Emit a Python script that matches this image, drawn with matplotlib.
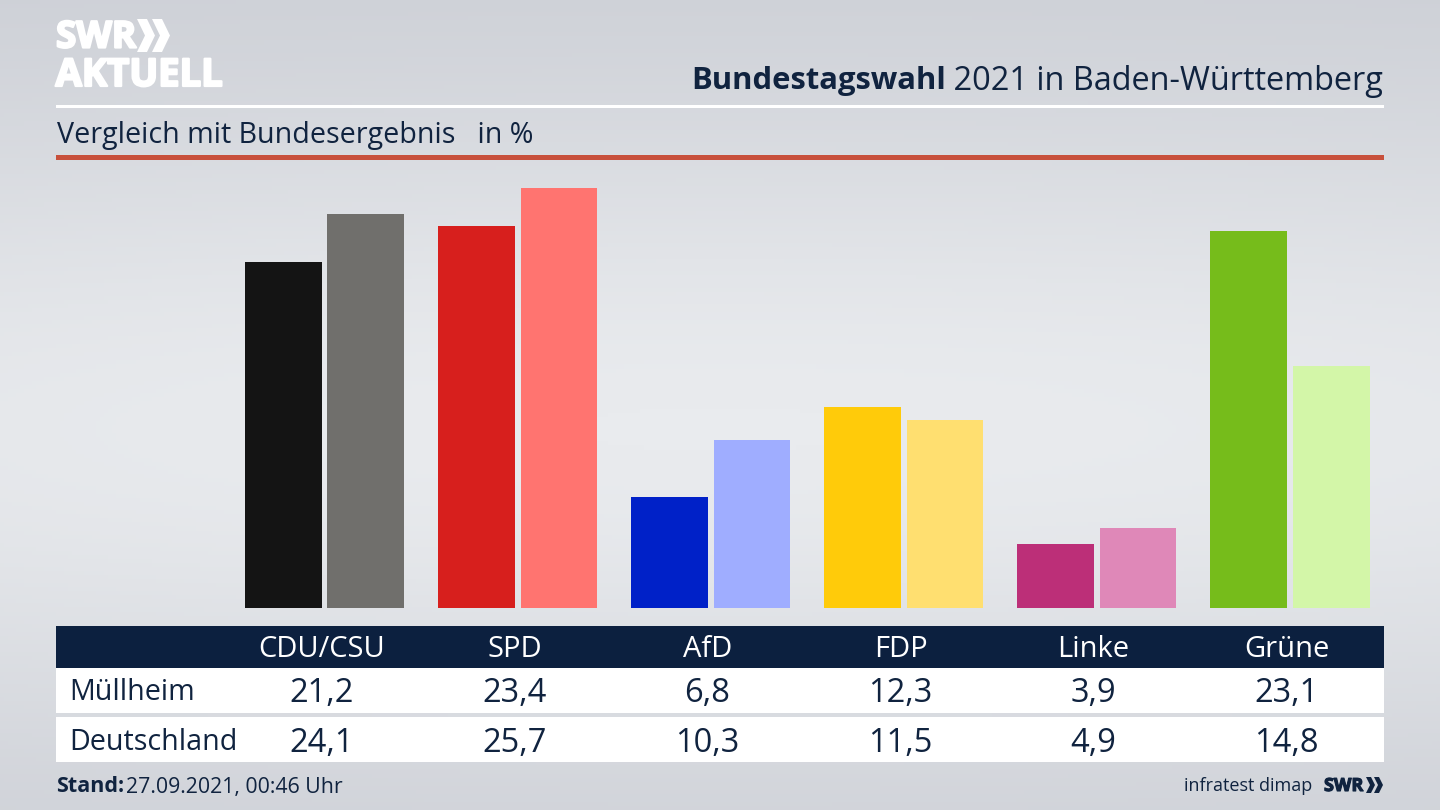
import matplotlib
matplotlib.use("Agg")
import matplotlib.pyplot as plt
import matplotlib.patheffects as pe
from matplotlib.patches import Rectangle, Polygon
import numpy as np

parties = ["CDU/CSU", "SPD", "AfD", "FDP", "Linke", "Grüne"]
muellheim = [21.2, 23.4, 6.8, 12.3, 3.9, 23.1]
deutschland = [24.1, 25.7, 10.3, 11.5, 4.9, 14.8]
colors_local = ["#141414", "#d71f1d", "#0021c8", "#ffcb0a", "#bc2f78", "#76bc1b"]
colors_bund = ["#706f6c", "#ff7470", "#9fadff", "#ffdf70", "#df88b8", "#d3f6a8"]
row_names = ["Müllheim", "Deutschland"]

W, H = 1440, 810
NAVY = "#0c203f"
TEXT = "#10233f"
plt.rcParams["font.family"] = ["Open Sans", "DejaVu Sans"]

fig = plt.figure(figsize=(W / 100, H / 100), dpi=100)

# overlay in pixel coords, y pointing down
bg = fig.add_axes([0, 0, 1, 1])
bg.set_xlim(0, W)
bg.set_ylim(H, 0)
bg.axis("off")

yy, xx = np.mgrid[0:1:200j, 0:1:360j]
grad = np.exp(-((yy - 0.53) / 0.42) ** 2) * (1 - 0.35 * (xx - 0.5) ** 2)
bg.imshow(grad, extent=(0, W, H, 0), aspect="auto", cmap=matplotlib.colors.LinearSegmentedColormap.from_list(
    "bg", ["#c9ccd3", "#e9ebee"]), vmin=0, vmax=1, zorder=0)


def chevron(x0, y0, y1, arm, depth, color):
    ym = (y0 + y1) / 2
    bg.add_patch(Polygon([[x0, y0], [x0 + arm, y0], [x0 + arm + depth, ym], [x0 + arm, y1], [x0, y1], [x0 + depth, ym]],
                         color=color, lw=0))


# header
heavy_w = [pe.withStroke(linewidth=1.6, foreground="white")]
bg.text(56, 37.5, "SWR", color="white", fontsize=26.5, fontweight="bold", va="center", ha="left", path_effects=heavy_w)
chevron(137, 19, 52, 10, 8, "white")
chevron(152, 19, 52, 10, 8, "white")
bg.text(55.5, 76, "AKTUELL", color="white", fontsize=27.5, fontweight="bold", va="center", ha="left", path_effects=heavy_w)

title = bg.text(1383, 81, " 2021 in Baden-Württemberg", color=TEXT, fontsize=23.4, ha="right", va="center")
fig.canvas.draw()
bb = title.get_window_extent()
bg.text(bb.x0 + 1, 81, "Bundestagswahl", color=TEXT, fontsize=22.3, fontweight="bold", ha="right", va="center")

bg.add_patch(Rectangle((56, 104.5), 1328, 3, color="white", lw=0))
bg.text(57, 135, "Vergleich mit Bundesergebnis   in %", color=TEXT, fontsize=20.6, va="center", ha="left")
bg.add_patch(Rectangle((56, 155), 1328, 5, color="#c8503c", lw=0))

# bars
x_first, x_step, px_per_unit = 324.5, 193.1, 16.33
ax = fig.add_axes([56 / W, (H - 608) / H, 1328 / W, 438 / H])
ax.set_xlim((56 - x_first) / x_step, (1384 - x_first) / x_step)
ax.set_ylim(0, 438 / px_per_unit)
ax.axis("off")
pos = np.arange(len(parties))
ax.bar(pos - 41.2 / x_step, muellheim, 76.6 / x_step, color=colors_local)
ax.bar(pos + 41.2 / x_step, deutschland, 76.6 / x_step, color=colors_bund)

# table
bg.add_patch(Rectangle((56, 626), 1328, 42, color=NAVY, lw=0))
bg.add_patch(Rectangle((56, 668), 1328, 45, color="white", lw=0))
bg.add_patch(Rectangle((56, 717), 1328, 45, color="white", lw=0))
for i, name in enumerate(parties):
    cx = 321.5 + 193 * i
    bg.text(cx, 649.5, name, color="white", fontsize=21, ha="center", va="center")
    bg.text(cx, 694, f"{muellheim[i]:.1f}".replace(".", ","), color=TEXT, fontsize=23.5, ha="center", va="center")
    bg.text(cx, 743, f"{deutschland[i]:.1f}".replace(".", ","), color=TEXT, fontsize=23.5, ha="center", va="center")
bg.text(69.5, 693, row_names[0], color=TEXT, fontsize=20.7, va="center", ha="left")
bg.text(69.5, 742, row_names[1], color=TEXT, fontsize=20.7, va="center", ha="left")

# footer
bg.text(56, 787, "Stand:", color=TEXT, fontsize=15.5, fontweight="bold", va="center", ha="left")
bg.text(126, 787, "27.09.2021, 00:46 Uhr", color=TEXT, fontsize=15.3, va="center", ha="left")
bg.text(1312, 786, "infratest dimap", color=TEXT, fontsize=13, va="center", ha="right")
bg.text(1324, 786, "SWR", color=TEXT, fontsize=13, fontweight="bold", va="center", ha="left",
        path_effects=[pe.withStroke(linewidth=0.8, foreground=TEXT)])
chevron(1366, 777, 793, 5, 4, TEXT)
chevron(1374, 777, 793, 5, 4, TEXT)

fig.savefig("out.png", dpi=100)
